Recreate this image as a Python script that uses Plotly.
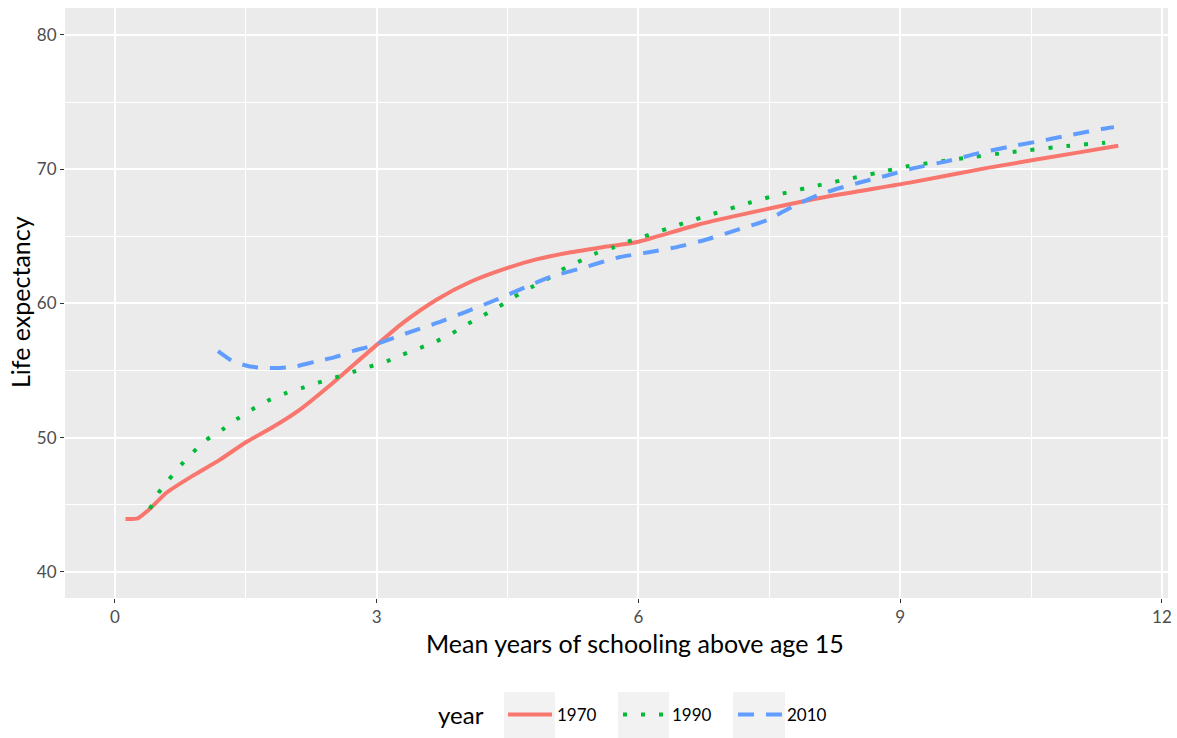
import plotly.graph_objects as go

# ---- data ----
years = ["1970", "1990", "2010"]

x_1970 = [0.12, 0.26, 0.4, 0.59, 0.9, 1.2, 1.51, 1.81, 2.12, 2.5, 2.89, 3.3, 3.69, 4.07,
          4.5, 4.84, 5.21, 5.6, 6.0, 6.67, 7.43, 8.2, 9.11, 10.0, 11.0, 11.5]
y_1970 = [43.95, 44.0, 44.7, 45.9, 47.2, 48.35, 49.7, 50.8, 52.1, 54.1, 56.3, 58.55, 60.3, 61.6,
          62.65, 63.3, 63.8, 64.2, 64.6, 65.85, 66.97, 68.0, 69.0, 70.1, 71.2, 71.75]

x_1990 = [0.4, 0.5, 0.62, 0.76, 0.9, 1.05, 1.23, 1.4, 1.57, 1.75, 1.95, 2.14, 2.33, 2.53,
          2.73, 2.92, 3.12, 3.3, 3.5, 3.69, 3.87, 4.05, 4.23, 4.41, 4.58, 4.77, 4.95, 5.12,
          5.31, 5.5, 5.7, 5.88, 6.07, 6.48, 6.87, 7.27, 7.66, 8.06, 8.46, 8.86, 9.07, 9.67,
          10.29, 10.91, 11.35]
y_1990 = [44.7, 45.9, 46.9, 48.0, 48.95, 49.85, 50.6, 51.4, 52.1, 52.75, 53.3, 53.7, 54.1, 54.5,
          54.9, 55.3, 55.7, 56.2, 56.7, 57.2, 57.8, 58.5, 59.15, 59.8, 60.5, 61.2, 61.8, 62.5,
          63.1, 63.7, 64.15, 64.6, 65.0, 65.9, 66.7, 67.5, 68.2, 68.8, 69.35, 69.9, 70.2, 70.77,
          71.29, 71.73, 71.98]

x_2010 = [1.18, 1.35, 1.55, 1.72, 1.89, 2.06, 2.29, 2.52, 2.75, 2.92, 3.35, 3.69, 4.03, 4.38,
          4.7, 5.0, 5.36, 5.75, 6.1, 6.44, 6.8, 7.14, 7.47, 7.79, 8.11, 8.5, 8.83, 9.17, 9.54,
          9.9, 10.24, 10.6, 10.95, 11.38, 11.45]
y_2010 = [56.45, 55.7, 55.3, 55.2, 55.2, 55.3, 55.65, 56.0, 56.5, 56.8, 57.8, 58.55, 59.4, 60.3,
          61.2, 62.0, 62.65, 63.4, 63.8, 64.2, 64.8, 65.5, 66.2, 67.3, 68.2, 68.95, 69.5, 70.1, 70.6,
          71.2, 71.66, 72.1, 72.55, 73.07, 73.12]

x_ticks = [0, 3, 6, 9, 12]
y_ticks = [40, 50, 60, 70, 80]

x_title = "Mean years of schooling above age 15"
y_title = "Life expectancy"
legend_title = "year"

series = [
    (years[0], x_1970, y_1970, "#F8766D", "solid"),
    (years[1], x_1990, y_1990, "#00BA38", "4px,14px"),
    (years[2], x_2010, y_2010, "#619CFF", "16px,12px"),
]

FONT = "Lato, 'Open Sans', sans-serif"

fig = go.Figure()
for name, xs, ys, col, dash in series:
    fig.add_trace(go.Scatter(
        x=xs, y=ys, mode="lines", name=name,
        line=dict(color=col, width=4, dash=dash, shape="spline", smoothing=0.6),
    ))

W, H = 1177, 738
L, R, T, B = 65, 9, 8, 140
pw = W - L - R
ph = H - T - B


def px_x(p):
    return (p - L) / pw


def px_y(p):
    return (H - B - p) / ph


# grey legend key backgrounds
for x0, x1 in [(504, 555), (618, 669), (733, 785)]:
    fig.add_shape(type="rect", xref="paper", yref="paper",
                  x0=px_x(x0), x1=px_x(x1), y0=px_y(692), y1=px_y(738),
                  fillcolor="#f2f2f2", line=dict(width=0), layer="below")

fig.add_annotation(text=x_title, xref="paper", yref="paper",
                   x=px_x(635), y=px_y(643), xanchor="center", yanchor="middle",
                   showarrow=False, font=dict(family=FONT, size=25, color="#000000"))
fig.add_annotation(text=y_title, xref="paper", yref="paper",
                   x=px_x(20), y=px_y(302), xanchor="center", yanchor="middle",
                   textangle=-90, showarrow=False,
                   font=dict(family=FONT, size=25, color="#000000"))
fig.add_annotation(text=legend_title, xref="paper", yref="paper",
                   x=px_x(436), y=px_y(714), xanchor="left", yanchor="middle",
                   showarrow=False, font=dict(family=FONT, size=24, color="#000000"))

fig.update_layout(
    width=W, height=H,
    margin=dict(l=L, r=R, t=T, b=B, autoexpand=False),
    paper_bgcolor="white",
    plot_bgcolor="#EBEBEB",
    font=dict(family=FONT, size=17, color="#4D4D4D"),
    legend=dict(
        orientation="h", xref="paper", yref="paper",
        x=px_x(503), y=px_y(715), xanchor="left", yanchor="middle",
        font=dict(size=17, color="#000000"),
        bgcolor="rgba(0,0,0,0)",
        itemwidth=44,
        entrywidth=56,
    ),
    xaxis=dict(
        range=[-0.573, 12.07], tickvals=x_ticks, ticks="outside", ticklen=4,
        tickcolor="#333333", tickwidth=1.2, automargin=False,
        showgrid=True, gridcolor="white", gridwidth=1.6, zeroline=False,
        showline=False,
        minor=dict(dtick=1.5, showgrid=True, gridcolor="white", gridwidth=0.8, ticks=""),
        tickfont=dict(size=17, color="#4D4D4D"),
    ),
    yaxis=dict(
        range=[38.06, 82.01], tickvals=y_ticks, ticks="outside", ticklen=4,
        tickcolor="#333333", tickwidth=1.2, automargin=False,
        showgrid=True, gridcolor="white", gridwidth=1.6, zeroline=False,
        showline=False,
        minor=dict(dtick=5, showgrid=True, gridcolor="white", gridwidth=0.8, ticks=""),
        tickfont=dict(size=17, color="#4D4D4D"),
    ),
)

fig.write_html("out.html",
               config={"displayModeBar": False},
               post_script="document.body.style.margin='0px';document.body.style.overflow='hidden';")
